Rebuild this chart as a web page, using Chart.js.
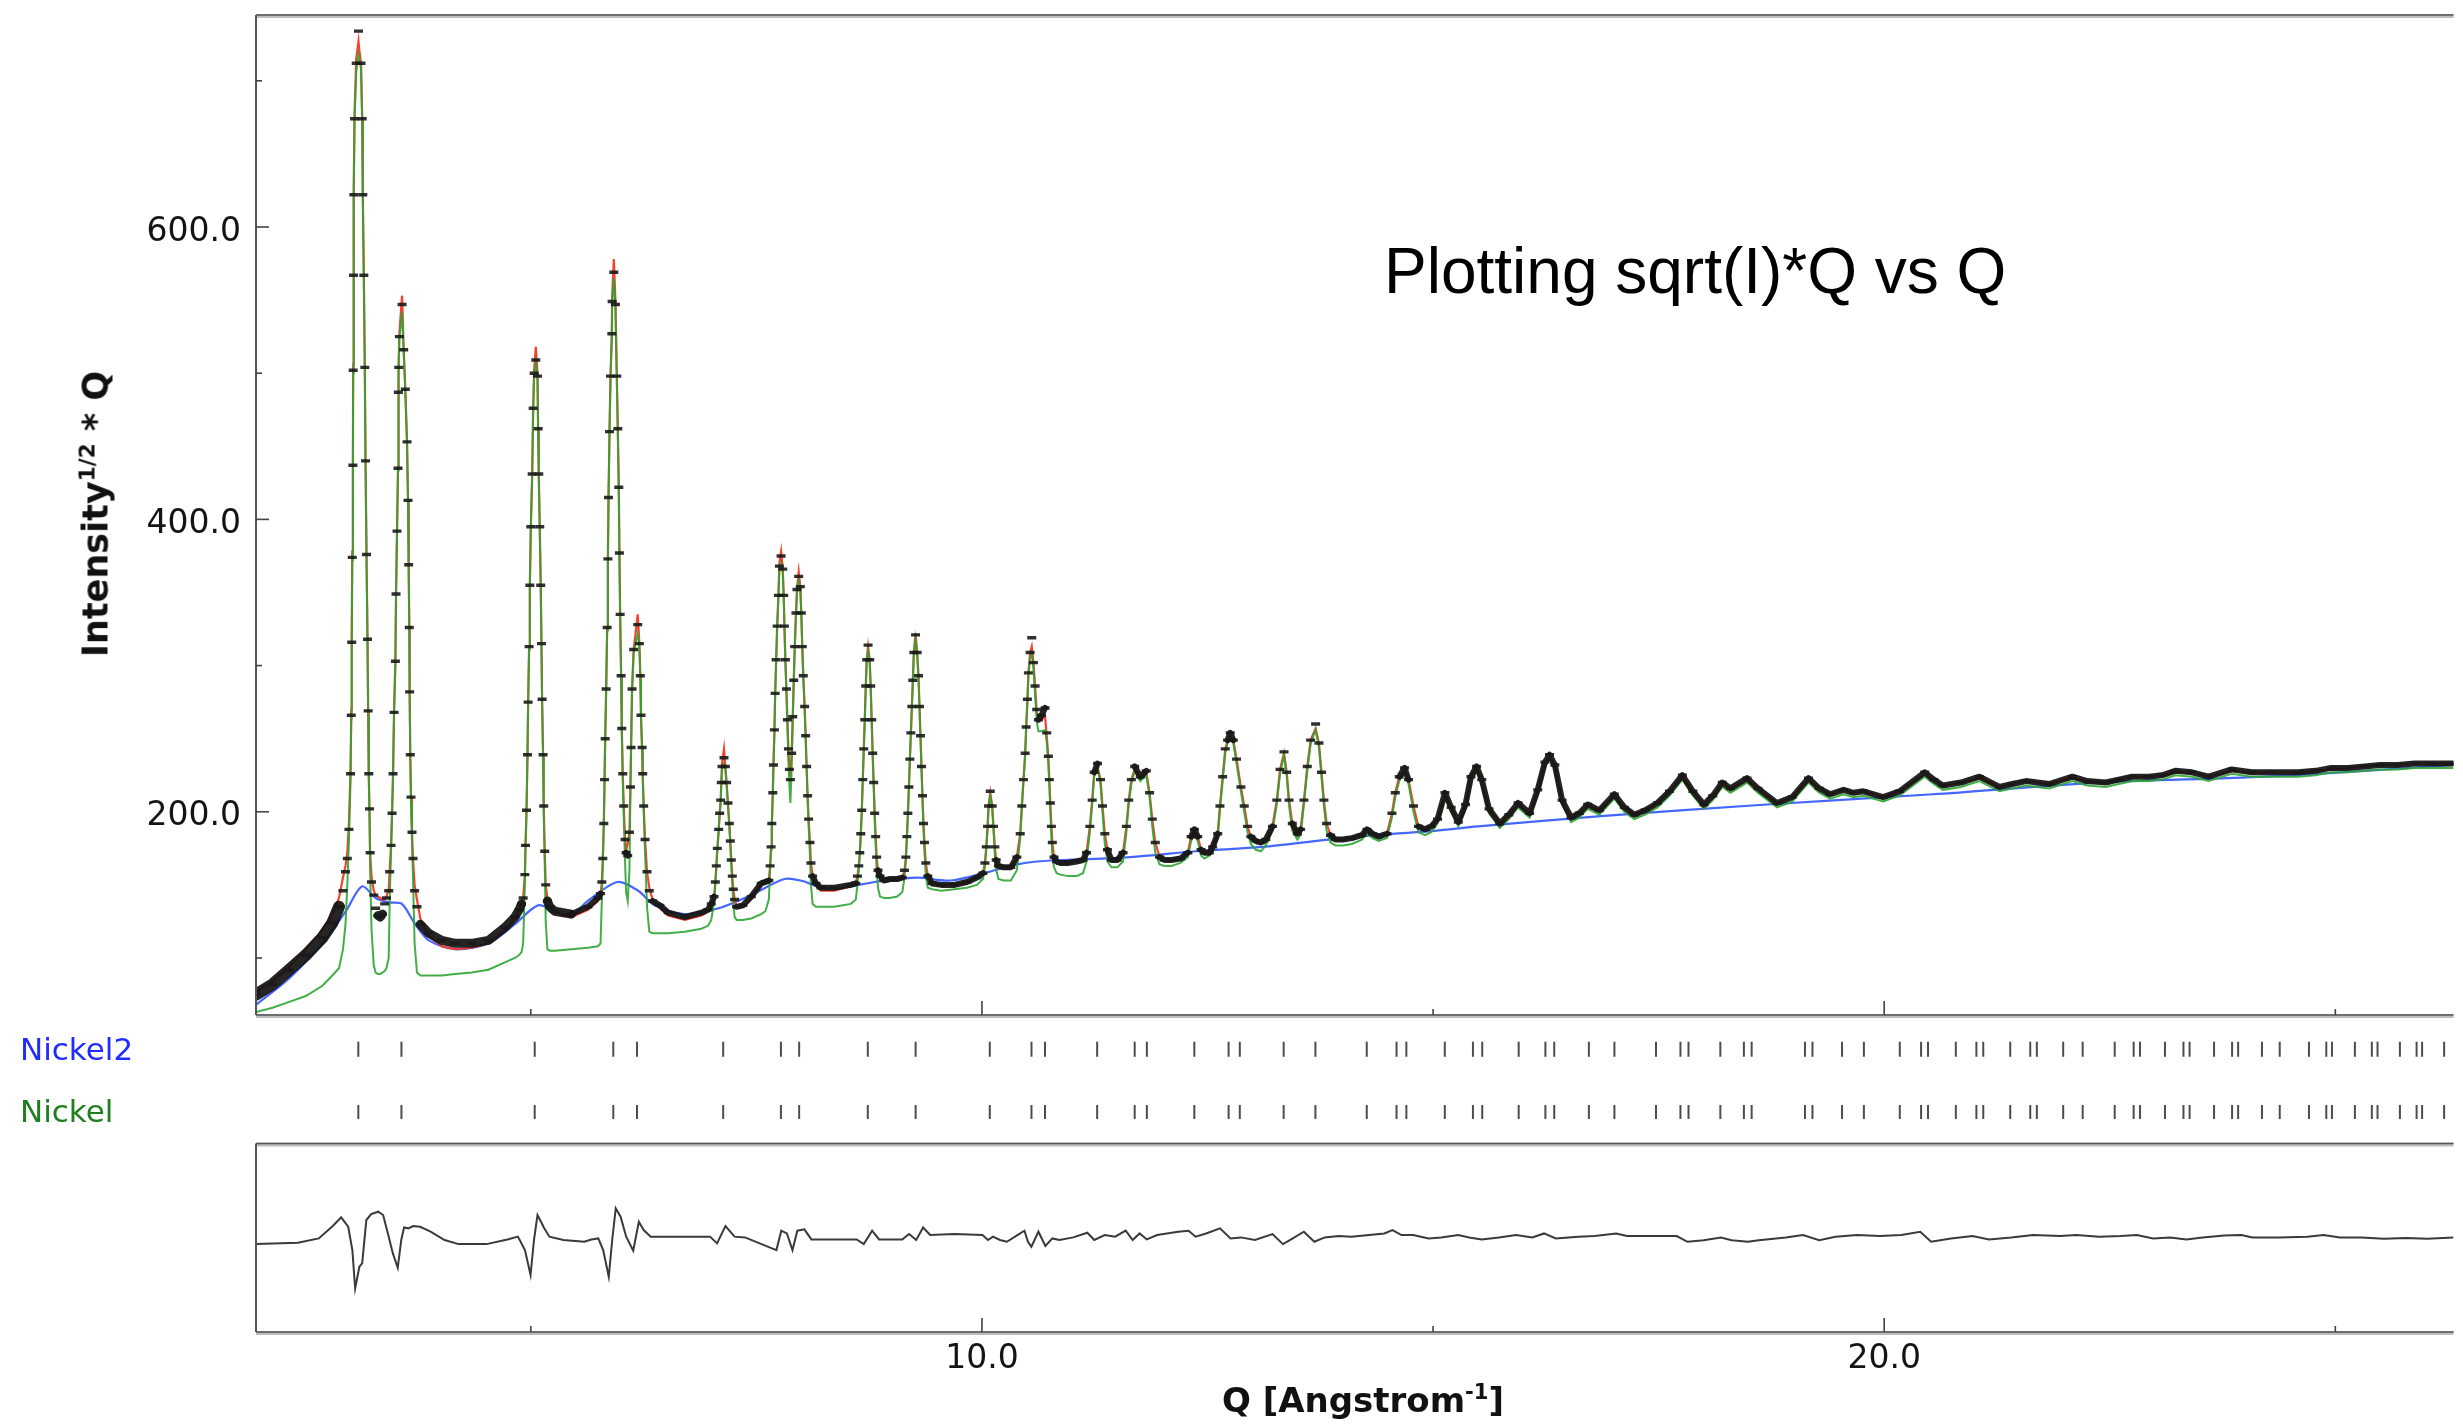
<!DOCTYPE html>
<html>
<head>
<meta charset="utf-8">
<title>Nickel TOF refinement - sqrt(I)*Q vs Q</title>
<script src="https://cdn.jsdelivr.net/npm/chart.js@4.4.1/dist/chart.umd.min.js"></script>
<style>
  html, body { margin: 0; padding: 0; background: #fff; overflow: hidden; }
  #wrap { position: relative; width: 2463px; height: 1425px; }
  #rietveld { position: absolute; left: 0; top: 0; }
  .lbl { position: absolute; white-space: nowrap; font-family: 'DejaVu Sans', sans-serif; color: #111; }
  .lbl sup { font-size: 0.62em; vertical-align: 0.62em; line-height: 0; }
  #ytitle { left: 96px; top: 514px; font-size: 35px; line-height: 35px; font-weight: bold;
            transform: translate(-50%, -50%) rotate(-90deg); }
  #xtitle { left: 1363px; top: 1383px; font-size: 34px; line-height: 34px; font-weight: bold;
            transform: translateX(-50%); }
  .phase { left: 20px; font-size: 31px; line-height: 31px; }
  #note { left: 1384px; top: 239px; font-family: 'Liberation Sans', 'Helvetica', sans-serif;
          font-size: 64px; line-height: 64px; font-weight: 300; color: #000; }
</style>
</head>
<body>
<div id="wrap">
  <canvas id="rietveld" width="2463" height="1425"></canvas>
  <div class="lbl" id="ytitle">Intensity<sup>1/2</sup> * Q</div>
  <div class="lbl" id="xtitle">Q [Angstrom<sup>-1</sup>]</div>
  <div class="lbl phase" style="top:1034px;color:#1f2bff">Nickel2</div>
  <div class="lbl phase" style="top:1096px;color:#1f7f1f">Nickel</div>
  <div class="lbl" id="note">Plotting sqrt(I)*Q vs Q</div>
</div>
<script>
// --- observed / calculated / phase curves, all on the same Q grid ---
const obsQ = [
  1.954, 2.138, 2.322, 2.506, 2.690, 2.800, 2.874, 2.918, 2.946,
  2.966, 2.984, 3.002, 3.010, 3.015, 3.021, 3.028, 3.031, 3.035, 3.039, 3.046, 3.065, 3.090, 3.097, 3.118, 3.131, 3.138, 3.149, 3.160, 3.168, 3.179, 3.190, 3.197, 3.204, 3.212, 3.219, 3.234, 3.259,
  3.280, 3.305, 3.330, 3.355, 3.380, 3.400,
  3.425, 3.436, 3.451, 3.462, 3.473, 3.484, 3.499, 3.506, 3.517, 3.528, 3.532, 3.536, 3.543, 3.573, 3.591, 3.609, 3.628, 3.639, 3.646, 3.653, 3.657, 3.664, 3.672, 3.683, 3.694, 3.712, 3.738, 3.775,
  3.867, 4.014, 4.161, 4.345, 4.529, 4.713, 4.823, 4.870,
  4.897, 4.915, 4.934, 4.941, 4.952, 4.963, 4.970, 4.981, 4.989, 5.000, 5.015, 5.026, 5.037, 5.055, 5.074, 5.081, 5.088, 5.099, 5.110, 5.118, 5.125, 5.136, 5.143, 5.154, 5.165, 5.184, 5.210,
  5.265, 5.449, 5.633, 5.743,
  5.773, 5.787, 5.798, 5.809, 5.817, 5.824, 5.835, 5.846, 5.854, 5.861, 5.872, 5.883, 5.898, 5.901, 5.920, 5.938, 5.953, 5.964, 5.975, 5.982, 5.990, 6.001, 6.008, 6.019, 6.030, 6.045, 6.056, 6.074, 6.093, 6.104, 6.111, 6.122, 6.140, 6.185, 6.203, 6.214, 6.221, 6.233, 6.240, 6.251, 6.266, 6.288, 6.313, 6.350,
  6.430, 6.523, 6.707, 6.891, 6.964,
  7.000, 7.031, 7.045, 7.056, 7.067, 7.082, 7.093, 7.104, 7.111, 7.119, 7.141, 7.156, 7.170, 7.185, 7.200, 7.211, 7.222, 7.233, 7.244, 7.259, 7.281,
  7.350, 7.443, 7.553, 7.600,
  7.638, 7.652, 7.663, 7.671, 7.682, 7.689, 7.700, 7.708, 7.719, 7.730, 7.744, 7.755, 7.774, 7.792, 7.803, 7.811, 7.822, 7.833, 7.844, 7.855, 7.866, 7.877, 7.891, 7.903, 7.914, 7.925, 7.939, 7.950, 7.969, 7.987, 7.998, 8.009, 8.020, 8.035, 8.046, 8.057, 8.068, 8.079, 8.094, 8.105, 8.123, 8.160, 8.215,
  8.363, 8.546,
  8.602, 8.620, 8.635, 8.646, 8.657, 8.668, 8.679, 8.690, 8.701, 8.712, 8.723, 8.738, 8.756, 8.767, 8.778, 8.789, 8.800, 8.811, 8.822, 8.833, 8.848, 8.870, 8.914,
  8.980, 9.060,
  9.117, 9.142, 9.157, 9.168, 9.179, 9.190, 9.201, 9.212, 9.223, 9.234, 9.245, 9.264, 9.282, 9.297, 9.308, 9.319, 9.330, 9.341, 9.352, 9.363, 9.378, 9.400, 9.448,
  9.550, 9.697, 9.834, 9.944,
  10.011, 10.033, 10.048, 10.062, 10.073, 10.092, 10.114, 10.128, 10.143, 10.158, 10.183,
  10.240, 10.320, 10.387,
  10.424, 10.442, 10.460, 10.479, 10.490, 10.504, 10.515, 10.534, 10.552, 10.571, 10.589, 10.607, 10.626, 10.660, 10.700, 10.718, 10.736, 10.747, 10.758, 10.770, 10.780, 10.799, 10.828,
  10.870, 10.950, 11.050, 11.120,
  11.159, 11.196, 11.222, 11.244, 11.281, 11.314, 11.336, 11.362, 11.391, 11.435,
  11.500, 11.564, 11.601, 11.627, 11.656, 11.693, 11.755, 11.822, 11.858, 11.888, 11.921, 11.969, 12.024,
  12.100, 12.200, 12.282, 12.318, 12.355, 12.392, 12.429, 12.466, 12.520,
  12.557, 12.613, 12.638, 12.668, 12.697, 12.723, 12.752, 12.786, 12.822, 12.870, 12.907, 12.944, 12.980, 13.036, 13.091,
  13.146, 13.220, 13.268, 13.304, 13.348, 13.378, 13.404, 13.440, 13.496, 13.532, 13.569, 13.606, 13.643, 13.698, 13.735, 13.764, 13.790, 13.820, 13.863, 13.919,
  14.000, 14.100, 14.210, 14.268, 14.330, 14.397, 14.489, 14.544, 14.581, 14.625, 14.684, 14.728, 14.783, 14.838, 14.912, 14.980,
  15.050, 15.132, 15.200, 15.280, 15.360, 15.420, 15.482, 15.540, 15.620, 15.740, 15.840, 15.942, 16.070, 16.160, 16.240, 16.291, 16.350, 16.430, 16.530, 16.620,
  16.714, 16.843, 17.009, 17.120, 17.230, 17.350, 17.487, 17.620, 17.763, 17.880, 18.002, 18.100, 18.205, 18.296, 18.480, 18.600, 18.812, 18.980, 19.161, 19.280,
  19.400, 19.550, 19.660, 19.770, 19.989, 20.170, 20.449, 20.550, 20.651, 20.850, 21.056, 21.277, 21.420, 21.571, 21.829, 22.086, 22.250, 22.454, 22.600, 22.749,
  22.933, 23.080, 23.227, 23.411, 23.595, 23.852, 24.073, 24.300, 24.588, 24.780, 24.956, 25.140, 25.324, 25.500, 25.692, 25.880, 26.060, 26.310
];

// observed sqrt(I)*Q
const obsI = [
  75, 82, 92, 102, 114, 124, 135, 146, 159,
  168, 188, 226, 266, 316, 374, 437, 502, 567, 622, 674, 712, 734, 748, 712, 674, 622, 567, 504, 440, 376, 318, 269, 226, 202, 172, 152, 143,
  134, 129, 128, 130, 137, 141,
  146, 159, 177, 199, 226, 268, 303, 349, 392, 435, 487, 504, 525, 547, 516, 489, 453, 413, 369, 326, 282, 239, 210, 186, 168, 146, 135, 123,
  117, 112, 110, 110, 112, 121, 128, 133,
  137, 141, 157, 177, 201, 239, 275, 313, 355, 395, 431, 476, 500, 509, 498, 462, 431, 395, 355, 315, 277, 239, 204, 173, 150, 139, 135,
  132, 130, 135, 141,
  144, 152, 168, 192, 222, 250, 284, 326, 373, 415, 460, 498, 527, 549, 569, 547, 498, 462, 422, 377, 335, 293, 257, 226, 204, 181, 172, 170, 186, 217, 244, 284, 311, 328, 315, 293, 266, 244, 226, 204, 181, 159, 146, 139,
  136, 131, 128, 131, 133,
  137, 142, 152, 163, 175, 188, 199, 208, 220, 231, 237, 231, 220, 206, 192, 180, 167, 156, 147, 140, 135,
  136, 142, 151, 152,
  153, 163, 176, 192, 213, 232, 256, 281, 304, 327, 348, 368, 375, 366, 348, 327, 304, 284, 263, 243, 229, 222, 240, 265, 290, 313, 336, 352, 361, 354, 336, 313, 293, 272, 252, 231, 211, 195, 179, 165, 156, 151, 148,
  148, 150,
  151, 156, 163, 172, 185, 201, 222, 243, 263, 286, 304, 314, 304, 286, 263, 240, 220, 199, 183, 169, 160, 156, 153,
  154, 154,
  155, 160, 169, 183, 199, 217, 236, 254, 272, 290, 309, 321, 309, 293, 272, 252, 231, 211, 192, 179, 165, 156, 151,
  150, 150, 152, 155,
  158, 165, 176, 190, 204, 214, 204, 190, 176, 167, 163,
  162, 162, 169,
  185, 204, 222, 240, 258, 277, 295, 309, 319, 302, 286, 270, 263, 266, 271, 254, 238, 222, 206, 190, 179, 169, 166,
  165, 165, 166, 167,
  172, 190, 208, 227, 233, 222, 204, 185, 174, 167,
  167, 172, 190, 208, 222, 231, 224, 228, 213, 195, 179, 169, 167,
  167, 168, 172, 183, 188, 183, 174, 172, 172,
  176, 185, 204, 224, 243, 249, 254, 249, 236, 217, 204, 190, 183, 180, 179,
  181, 190, 208, 229, 241, 227, 208, 192, 185, 188, 208, 231, 249, 260, 247, 227, 208, 192, 184, 181,
  181, 182, 184, 188, 185, 183, 185, 199, 213, 224, 230, 222, 204, 190, 188, 190,
  195, 213, 203, 193, 205, 224, 231, 222, 202, 192, 198, 206, 199, 215, 234, 239, 232, 208, 196, 199,
  205, 201, 212, 203, 198, 201, 206, 214, 225, 214, 205, 211, 220, 216, 223, 216, 206, 210, 223, 216,
  212, 215, 213, 214, 210, 214, 227, 222, 218, 220, 224, 217, 219, 221, 219, 224, 221, 220, 222, 224,
  224, 225, 228, 227, 224, 229, 227, 227, 227, 228, 230, 230, 231, 232, 232, 233, 233, 233
];

// calculated profile (red)
const calcI = [
  77, 84, 94, 106, 119, 130, 141, 155, 163,
  172, 192, 230, 270, 320, 378, 441, 506, 571, 626, 677, 715, 727, 722, 712, 674, 622, 567, 504, 440, 376, 318, 269, 226, 202, 172, 156, 146,
  143, 142, 141, 140, 140, 142,
  147, 160, 178, 200, 227, 269, 304, 350, 393, 436, 488, 505, 527, 553, 516, 489, 453, 413, 369, 326, 282, 239, 210, 186, 168, 150, 140, 127,
  115, 108, 106, 107, 110, 119, 127, 133,
  137, 141, 157, 177, 201, 239, 275, 313, 355, 395, 431, 476, 502, 518, 500, 462, 431, 395, 355, 315, 277, 239, 204, 173, 150, 140, 136,
  131, 128, 133, 139,
  143, 152, 168, 192, 222, 250, 284, 326, 373, 415, 460, 498, 527, 551, 578, 549, 498, 462, 422, 377, 335, 293, 257, 226, 204, 181, 174, 178, 186, 217, 244, 284, 311, 335, 315, 293, 266, 244, 226, 204, 181, 159, 148, 140,
  134, 129, 126, 129, 132,
  137, 142, 152, 163, 175, 188, 199, 208, 220, 233, 243, 231, 220, 206, 192, 180, 167, 156, 147, 140, 135,
  135, 141, 150, 152,
  153, 163, 176, 192, 213, 232, 256, 281, 304, 327, 348, 370, 378, 366, 348, 327, 304, 284, 263, 243, 229, 224, 240, 265, 290, 313, 336, 352, 364, 354, 336, 313, 293, 272, 252, 231, 211, 195, 179, 165, 156, 150, 146,
  146, 149,
  151, 156, 163, 172, 185, 201, 222, 243, 263, 286, 304, 313, 304, 286, 263, 240, 220, 199, 183, 169, 160, 156, 153,
  153, 153,
  155, 160, 169, 183, 199, 217, 236, 254, 272, 290, 309, 322, 309, 293, 272, 252, 231, 211, 192, 179, 165, 156, 151,
  150, 150, 152, 155,
  158, 165, 176, 190, 204, 213, 204, 190, 176, 167, 163,
  161, 161, 169,
  185, 204, 222, 240, 258, 277, 295, 309, 313, 302, 286, 268, 262, 263, 265, 252, 237, 222, 206, 190, 179, 169, 166,
  165, 165, 166, 167,
  172, 190, 208, 227, 231, 222, 204, 185, 174, 167,
  167, 172, 190, 208, 222, 229, 224, 227, 213, 195, 179, 169, 167,
  167, 168, 172, 183, 188, 183, 174, 172, 172,
  176, 185, 204, 224, 243, 249, 252, 249, 236, 217, 204, 190, 183, 180, 179,
  181, 190, 208, 229, 240, 227, 208, 192, 185, 188, 208, 231, 249, 257, 247, 227, 208, 192, 184, 181,
  181, 182, 184, 188, 185, 183, 185, 199, 213, 224, 229, 222, 204, 190, 188, 190,
  195, 212, 203, 193, 205, 224, 230, 222, 202, 192, 198, 205, 199, 215, 234, 238, 232, 208, 196, 199,
  204, 201, 211, 203, 198, 201, 206, 214, 224, 214, 205, 211, 219, 216, 222, 216, 206, 210, 222, 216,
  212, 215, 213, 214, 210, 214, 226, 222, 218, 220, 223, 217, 219, 221, 219, 223, 221, 220, 222, 224,
  224, 225, 227, 227, 224, 228, 227, 227, 227, 228, 229, 230, 231, 232, 232, 233, 233, 233
];

// Nickel phase curve (green)
const phaseI = [
  63, 66, 70, 74, 81, 88, 93, 106, 123,
  150, 180, 222, 264, 314, 372, 435, 500, 565, 620, 672, 706, 718, 716, 708, 672, 620, 565, 502, 438, 374, 316, 266, 222, 196, 160, 120, 95,
  90, 89, 89, 90, 91, 93,
  100, 140, 172, 197, 224, 266, 301, 347, 390, 433, 485, 502, 523, 542, 514, 487, 451, 411, 367, 324, 280, 237, 206, 180, 155, 110, 90, 88,
  88, 88, 89, 90, 92, 97, 100, 102,
  104, 110, 150, 175, 199, 237, 273, 311, 353, 393, 429, 474, 498, 507, 496, 460, 429, 393, 353, 313, 275, 237, 200, 165, 125, 106, 105,
  105, 106, 107, 108,
  110, 140, 165, 190, 220, 248, 282, 324, 371, 413, 458, 496, 525, 547, 565, 545, 496, 460, 420, 375, 333, 291, 255, 222, 196, 165, 145, 139, 160, 215, 242, 282, 309, 322, 313, 291, 264, 242, 224, 200, 172, 135, 118, 117,
  117, 117, 118, 120, 122,
  126, 138, 150, 161, 173, 186, 197, 206, 218, 229, 233, 229, 218, 204, 190, 177, 163, 150, 138, 128, 126,
  126, 127, 130, 132,
  140, 160, 174, 190, 211, 230, 254, 279, 302, 325, 346, 366, 370, 364, 346, 325, 300, 280, 258, 235, 218, 206, 230, 262, 288, 311, 334, 350, 358, 352, 334, 311, 291, 270, 250, 229, 208, 190, 170, 150, 137, 135, 135,
  135, 137,
  140, 150, 160, 170, 183, 199, 220, 241, 261, 284, 302, 310, 302, 284, 261, 238, 218, 196, 178, 160, 148, 142, 141,
  141, 142,
  145, 155, 167, 181, 197, 215, 234, 252, 270, 288, 307, 318, 307, 291, 270, 250, 229, 208, 188, 172, 156, 148, 147,
  146, 147, 148, 150,
  154, 162, 174, 188, 202, 211, 202, 187, 170, 160, 154,
  153, 153, 160,
  182, 202, 220, 238, 256, 275, 293, 305, 308, 298, 280, 262, 255, 255, 256, 248, 233, 218, 200, 182, 170, 162, 158,
  157, 156, 156, 158,
  166, 186, 205, 224, 230, 219, 200, 178, 166, 162,
  162, 166, 186, 205, 219, 228, 221, 225, 210, 190, 172, 164, 163,
  163, 165, 169, 180, 186, 180, 170, 168, 170,
  173, 182, 201, 221, 240, 247, 251, 247, 233, 214, 200, 186, 178, 174, 173,
  177, 187, 205, 226, 239, 224, 204, 187, 181, 184, 205, 228, 246, 256, 244, 223, 204, 187, 179, 177,
  177, 178, 181, 185, 182, 180, 182, 196, 210, 221, 227, 219, 200, 186, 184, 186,
  192, 210, 200, 190, 202, 221, 228, 219, 199, 189, 195, 203, 196, 212, 231, 236, 229, 205, 193, 196,
  202, 198, 209, 200, 195, 198, 203, 211, 222, 211, 202, 208, 217, 213, 220, 213, 203, 207, 220, 213,
  209, 212, 210, 211, 207, 211, 224, 219, 215, 217, 221, 214, 216, 218, 216, 221, 218, 217, 219, 221,
  221, 222, 225, 224, 221, 226, 224, 224, 224, 225, 227, 227, 228, 229, 229, 230, 230, 230
];

// background (blue)
const bkgQ = [
  1.954, 2.32, 2.69, 2.95, 3.13, 3.28, 3.43, 3.57, 3.72, 3.87, 4.16, 4.53, 4.82, 5.08, 5.26, 5.45,
  5.63, 5.96, 6.19, 6.37, 6.71, 7.08, 7.44, 7.81, 7.99, 8.18, 8.36, 8.54, 8.92, 9.28, 9.65, 10.02,
  10.39, 10.61, 10.90, 11.64, 12.37, 13.11, 13.84, 14.58, 15.02, 15.50, 16.86, 18.70, 20.54, 22.38, 24.22, 26.31
];
const bkgI = [
  68, 86, 110, 132, 149, 141, 138, 137, 123, 112, 106, 110, 123, 136, 132, 129,
  139, 152, 146, 136, 130, 134, 143, 154, 153, 149, 147, 149, 153, 155, 153, 158,
  164, 166, 167, 169, 173, 176, 181, 185, 187, 190, 197, 205, 212, 220, 224, 232
];

// reflection positions (fcc Ni), shared by both phase rows
const reflQ = [
  3.088, 3.566, 5.043, 5.914, 6.177, 7.132, 7.772, 7.974, 8.735, 9.265, 10.087, 10.549, 10.699,
  11.277, 11.693, 11.828, 12.354, 12.734, 12.858, 13.344, 13.696, 14.265, 14.595, 14.704, 15.130,
  15.442, 15.545, 15.949, 16.245, 16.343, 16.727, 17.010, 17.471, 17.742, 17.831, 18.184, 18.445,
  18.531, 19.122, 19.205, 19.533, 19.775, 20.173, 20.409, 20.486, 20.794, 21.022, 21.098, 21.397,
  21.619, 21.692, 21.984, 22.200, 22.555, 22.765, 22.835, 23.112, 23.317, 23.385, 23.656, 23.856,
  23.923, 24.187, 24.384, 24.708, 24.900, 24.963, 25.217, 25.405, 25.468, 25.716, 25.901, 25.962, 26.206
];

// difference curve (lower panel)
const diffQ = [
  1.954, 2.418, 2.650, 2.805, 2.898, 2.976, 3.022, 3.053, 3.100, 3.131, 3.177, 3.231, 3.309, 3.363, 3.425, 3.471,
  3.525, 3.564, 3.595, 3.642, 3.696, 3.773, 3.889, 4.044, 4.199, 4.509, 4.741, 4.857, 4.935, 4.997, 5.035, 5.074,
  5.113, 5.144, 5.206, 5.360, 5.593, 5.670, 5.748, 5.802, 5.864, 5.902, 5.941, 5.995, 6.057, 6.135, 6.197, 6.251,
  6.328, 6.599, 6.987, 7.064, 7.157, 7.258, 7.374, 7.722, 7.776, 7.838, 7.900, 7.954, 8.032, 8.109, 8.380, 8.612,
  8.690, 8.783, 8.860, 9.116, 9.193, 9.271, 9.348, 9.426, 9.697, 10.006, 10.068, 10.122, 10.200, 10.277, 10.393, 10.471,
  10.510, 10.548, 10.626, 10.703, 10.781, 10.858, 11.013, 11.168, 11.245, 11.361, 11.477, 11.593, 11.671, 11.748, 11.826, 11.942,
  12.174, 12.290, 12.368, 12.484, 12.639, 12.755, 12.871, 13.026, 13.220, 13.336, 13.413, 13.568, 13.684, 13.800, 13.955, 14.094,
  14.46, 14.55, 14.65, 14.78, 14.95, 15.09, 15.28, 15.40, 15.54, 15.73, 15.92, 16.10, 16.23, 16.36, 16.61, 16.79,
  17.03, 17.15, 17.70, 17.82, 18.00, 18.19, 18.31, 18.49, 18.61, 18.91, 19.10, 19.28, 19.46, 19.70, 19.95, 20.19,
  20.40, 20.52, 20.74, 20.98, 21.16, 21.41, 21.65, 21.95, 22.13, 22.38, 22.62, 22.80, 22.98, 23.17, 23.35, 23.53,
  23.77, 23.96, 24.08, 24.38, 24.69, 24.87, 25.05, 25.29, 25.54, 25.78, 26.02, 26.31
];
const diffI = [
  -1.6, -0.7, 2.3, 10.8, 16.7, 10.3, -5.7, -32.0, -17.1, -14.8, 14.9, 19.0, 20.6, 18.3, 3.5, -8.0,
  -17.8, 1.2, 9.8, 9.2, 10.8, 10.3, 6.9, 1.2, -1.6, -1.6, 1.6, 3.5, -5.7, -22.8, 1.2, 18.3,
  13.7, 9.8, 3.5, 1.2, 0, 1.6, 2.3, -5.7, -24.0, 1.2, 22.9, 17.2, 3.5, -6.1, 13.7, 8.0,
  3.5, 3.5, 3.5, -1.1, 10.8, 3.5, 3.0, -5.7, 7.6, 5.7, -5.7, 7.6, 8.5, 1.6, 1.6, 1.6,
  -1.6, 7.6, 1.6, 1.6, 5.3, 1.2, 9.8, 4.6, 5.3, 4.6, 1.2, 3.5, 1.2, 0, 4.6, 7.6,
  0, -3.4, 6.9, -2.9, 2.3, 1.2, 3.0, 6.2, 1.2, 4.6, 3.5, 7.6, 1.2, 5.7, 1.6, 4.6,
  6.9, 7.6, 3.5, 5.7, 9.2, 2.3, 3.0, 1.2, 5.3, -1.6, 1.2, 6.9, 0, 3.0, 3.9, 3.5,
  5.7, 8.0, 4.6, 4.6, 2.3, 2.9, 4.6, 2.9, 1.6, 2.9, 4.6, 2.9, 5.7, 2.3, 3.4, 3.9,
  5.7, 3.9, 3.9, 0, 1.1, 2.9, 1.1, 0, 1.1, 2.9, 4.6, 1.1, 3.4, 4.6, 3.9, 4.6,
  6.8, 0, 2.3, 3.9, 1.6, 2.9, 4.6, 3.9, 4.6, 3.4, 3.9, 4.6, 2.3, 2.9, 1.6, 2.9,
  4.3, 4.6, 2.9, 2.9, 3.4, 4.6, 2.9, 2.9, 2.0, 2.5, 2.0, 2.9
];

const Q_MIN = 1.954, Q_MAX = 26.31;
const ROW_NICKEL2 = 0.734, ROW_NICKEL = 0.245;

const xy = (qs, vals) => qs.map((q, i) => ({ x: q, y: vals[i] }));

// dense obs points read as a thick band; steep flanks only show the markers
function bandWidth(seg) {
  const q = obsQ[seg.p0DataIndex];
  const dx = Math.abs(seg.p1.x - seg.p0.x);
  const dy = Math.abs(seg.p1.y - seg.p0.y);
  if (q < 14.9 && dy > 3 * dx) return 0;
  if (q < 2.95) return 12;
  return q < 5.4 ? 9 : 6;
}

// frame lines + inward tick marks, drawn off the chart's own scales
const framePlugin = {
  id: 'frame',
  afterDatasetsDraw(chart) {
    const { ctx, chartArea, scales } = chart;
    const { x, y, yDiff } = scales;
    const left = chartArea.left, right = chartArea.right;
    ctx.save();
    const hline = (py) => {
      ctx.strokeStyle = '#bdbdbd'; ctx.lineWidth = 4;
      ctx.beginPath(); ctx.moveTo(left, py + 1); ctx.lineTo(right, py + 1); ctx.stroke();
      ctx.strokeStyle = '#555'; ctx.lineWidth = 1.6;
      ctx.beginPath(); ctx.moveTo(left, py); ctx.lineTo(right, py); ctx.stroke();
    };
    const vline = (top, bottom) => {
      ctx.strokeStyle = '#555'; ctx.lineWidth = 2;
      ctx.beginPath(); ctx.moveTo(left, top); ctx.lineTo(left, bottom); ctx.stroke();
    };
    [y, yDiff].forEach(s => { hline(s.top); hline(s.bottom); vline(s.top, s.bottom); });

    ctx.strokeStyle = '#444'; ctx.lineWidth = 1.6;
    const xTicks = [[5, 6], [10, 14], [15, 6], [20, 14], [25, 6]];
    [y.bottom, yDiff.bottom].forEach(base => {
      xTicks.forEach(([v, len]) => {
        const px = x.getPixelForValue(v);
        ctx.beginPath(); ctx.moveTo(px, base); ctx.lineTo(px, base - len); ctx.stroke();
      });
    });
    const yTicks = [[100, 6], [200, 13], [300, 6], [400, 13], [500, 6], [600, 13], [700, 6]];
    yTicks.forEach(([v, len]) => {
      const py = y.getPixelForValue(v);
      ctx.beginPath(); ctx.moveTo(left, py); ctx.lineTo(left + len, py); ctx.stroke();
    });
    ctx.restore();
  }
};

Chart.defaults.font.family = "'DejaVu Sans', sans-serif";

const tickFont = { size: 33, family: "'DejaVu Sans', sans-serif" };
// fixed axis box; drop the label half-height padding so the panels keep their edges
const fixedWidth = s => { s.width = 256; s.paddingTop = 0; s.paddingBottom = 0; };
const noGrid = { display: false, drawTicks: false, tickLength: 0 };

new Chart(document.getElementById('rietveld'), {
  type: 'line',
  data: {
    datasets: [
      {
        label: 'Observed',
        data: xy(obsQ, obsI),
        yAxisID: 'y',
        borderColor: '#121212',
        borderWidth: 6,
        borderJoinStyle: 'round',
        borderCapStyle: 'round',
        segment: {
          borderWidth: s => bandWidth(s) || 1,
          borderColor: s => bandWidth(s) ? 'rgba(18,18,18,0.92)' : 'rgba(0,0,0,0)'
        },
        pointStyle: 'line',
        pointRadius: 4.5,
        pointBorderWidth: 3.4,
        pointBorderColor: 'rgba(25,25,25,0.9)',
        tension: 0
      },
      {
        label: 'Nickel',
        data: xy(obsQ, phaseI),
        yAxisID: 'y',
        borderColor: 'rgba(45,165,50,0.9)',
        borderWidth: 2,
        pointRadius: 0,
        tension: 0
      },
      {
        label: 'Calculated',
        data: xy(obsQ, calcI),
        yAxisID: 'y',
        borderColor: 'rgba(245,55,35,0.95)',
        borderWidth: 2.2,
        pointRadius: 0,
        tension: 0
      },
      {
        label: 'Background',
        data: xy(bkgQ, bkgI),
        yAxisID: 'y',
        borderColor: 'rgba(60,95,255,0.95)',
        borderWidth: 2.2,
        pointRadius: 0,
        tension: 0.3
      },
      {
        label: 'Nickel2 reflections',
        data: reflQ.map(q => ({ x: q, y: ROW_NICKEL2 })),
        yAxisID: 'yRef',
        showLine: false,
        pointStyle: 'line',
        rotation: 90,
        pointRadius: 7.5,
        pointBorderWidth: 2,
        pointBorderColor: '#4d4d4d'
      },
      {
        label: 'Nickel reflections',
        data: reflQ.map(q => ({ x: q, y: ROW_NICKEL })),
        yAxisID: 'yRef',
        showLine: false,
        pointStyle: 'line',
        rotation: 90,
        pointRadius: 7,
        pointBorderWidth: 2,
        pointBorderColor: '#4d4d4d'
      },
      {
        label: 'Difference',
        data: xy(diffQ, diffI),
        yAxisID: 'yDiff',
        borderColor: '#3a3a3a',
        borderWidth: 2,
        pointRadius: 0,
        tension: 0
      }
    ]
  },
  options: {
    responsive: false,
    animation: false,
    devicePixelRatio: 1,
    events: [],
    layout: { padding: { top: 15, left: 0, right: 0, bottom: 0 } },
    plugins: { legend: { display: false }, tooltip: { enabled: false } },
    scales: {
      x: {
        type: 'linear',
        position: 'bottom',
        min: Q_MIN,
        max: Q_MAX,
        grid: noGrid,
        border: { display: false },
        ticks: {
          stepSize: 10,
          includeBounds: false,
          maxRotation: 0,
          padding: 8,
          color: '#141414',
          font: tickFont,
          callback: v => v.toFixed(1)
        },
        afterFit: s => { s.height = 93; s.paddingLeft = 0; s.paddingRight = 0; }
      },
      // stacked left panels are laid out bottom-up: difference, reflections, intensity
      yDiff: {
        type: 'linear',
        position: 'left',
        stack: 'panels',
        stackWeight: 188.5,
        min: -61.8,
        max: 67.3,
        grid: noGrid,
        border: { display: false },
        ticks: { display: false },
        afterFit: fixedWidth
      },
      yRef: {
        type: 'linear',
        position: 'left',
        stack: 'panels',
        stackWeight: 128.5,
        min: 0,
        max: 1,
        grid: noGrid,
        border: { display: false },
        ticks: { display: false },
        afterFit: fixedWidth
      },
      y: {
        type: 'linear',
        position: 'left',
        stack: 'panels',
        stackWeight: 1000,
        min: 61,
        max: 745,
        grid: noGrid,
        border: { display: false },
        ticks: {
          stepSize: 200,
          includeBounds: false,
          padding: 15,
          labelOffset: 5,
          color: '#141414',
          font: tickFont,
          callback: v => v.toFixed(1)
        },
        afterFit: fixedWidth
      }
    }
  },
  plugins: [framePlugin]
});
</script>
</body>
</html>
